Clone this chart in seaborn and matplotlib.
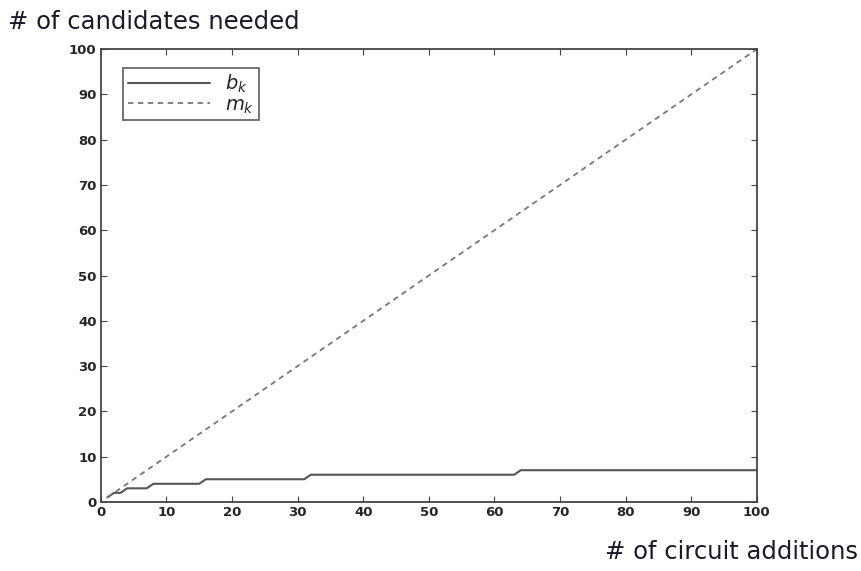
import pandas as pd
import matplotlib
matplotlib.use('Agg')
import matplotlib.pyplot as plt
import seaborn as sns

# data
# b_k: step curve, values at the integer points where it changes
bk_x = [1, 2, 3, 4, 7, 8, 15, 16, 31, 32, 63, 64, 100]
bk_y = [1, 2, 2, 3, 3, 4, 4, 5, 5, 6, 6, 7, 7]
# m_k: straight diagonal
mk_x = [1, 100]
mk_y = [1, 100]
ticks = [0, 10, 20, 30, 40, 50, 60, 70, 80, 90, 100]

sns.set_style('white')
plt.rcParams['font.family'] = ['Open Sans', 'DejaVu Sans']

bk = pd.DataFrame({'k': bk_x, 'val': bk_y})
mk = pd.DataFrame({'k': mk_x, 'val': mk_y})

fig = plt.figure(figsize=(8.62, 5.71), dpi=100)
ax = fig.add_axes([0.117, 0.121, 0.761, 0.793])

sns.lineplot(data=bk, x='k', y='val', ax=ax, color='#555555', linewidth=1.5,
             label='$b_k$')
sns.lineplot(data=mk, x='k', y='val', ax=ax, color='#777777', linewidth=1.3,
             linestyle=(0, (3, 2.5)), label='$m_k$')

ax.set_xlim(0, 100)
ax.set_ylim(0, 100)
ax.set_xticks(ticks)
ax.set_yticks(ticks)
ax.set_xticklabels([str(t) for t in ticks], fontweight='bold', fontsize=9.5,
                   family='DejaVu Sans')
ax.set_yticklabels([str(t) for t in ticks], fontweight='bold', fontsize=9.5,
                   family='DejaVu Sans')
ax.tick_params(direction='in', length=4, width=0.8, color='#444444', pad=3,
               top=True, right=True, bottom=True, left=True)
ax.set_xlabel('')
ax.set_ylabel('')
for s in ax.spines.values():
    s.set_color('#444444')
    s.set_linewidth(1.3)

leg = ax.legend(loc='upper left', bbox_to_anchor=(0.034, 0.958), fontsize=14,
                frameon=True, fancybox=False, handlelength=4.2,
                borderpad=0.25, labelspacing=0.05, handletextpad=0.8,
                borderaxespad=0)
leg.get_frame().set_edgecolor('#444444')
leg.get_frame().set_linewidth(1.3)

fig.text(0.009, 0.962, '# of candidates needed', fontsize=17.5,
         color='#1a1a2a', va='center', ha='left', family='DejaVu Sans')
fig.text(0.995, 0.033, '# of circuit additions', fontsize=17.5,
         color='#1a1a2a', va='center', ha='right', family='DejaVu Sans')

fig.savefig('out.png', dpi=100)
